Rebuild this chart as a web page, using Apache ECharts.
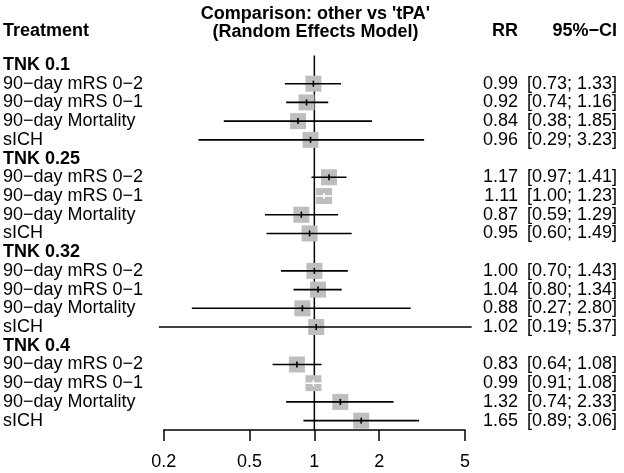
<!DOCTYPE html>
<html>
<head>
<meta charset="utf-8">
<script src="https://cdn.jsdelivr.net/npm/echarts@6/dist/echarts.min.js"></script>
<style>
html,body{margin:0;padding:0;background:#fff;}
#chart{width:624px;height:473px;}
</style>
</head>
<body>
<div id="chart"></div>
<script>
// ---- data ----
const groups = ['TNK 0.1', 'TNK 0.25', 'TNK 0.32', 'TNK 0.4'];
const outcomes = ['90\u2212day mRS 0\u22122', '90\u2212day mRS 0\u22121', '90\u2212day Mortality', 'sICH'];
const rrValues = [
  [0.99, 0.92, 0.84, 0.96],
  [1.17, 1.11, 0.87, 0.95],
  [1.00, 1.04, 0.88, 1.02],
  [0.83, 0.99, 1.32, 1.65]
];
const lowerCI = [
  [0.73, 0.74, 0.38, 0.29],
  [0.97, 1.00, 0.59, 0.60],
  [0.70, 0.80, 0.27, 0.19],
  [0.64, 0.91, 0.74, 0.89]
];
const upperCI = [
  [1.33, 1.16, 1.85, 3.23],
  [1.41, 1.23, 1.29, 1.49],
  [1.43, 1.34, 2.80, 5.37],
  [1.08, 1.08, 2.33, 3.06]
];
const tickValues = [0.2, 0.5, 1, 2, 5];
const refValue = 1;
const titleText = "Comparison: other vs 'tPA'\n(Random Effects Model)";

// ---- build rows ----
const rowLabels = [], rrLabels = [], ciLabels = [], points = [];
groups.forEach((g, gi) => {
  rowLabels.push('{b|' + g + '}');
  rrLabels.push('');
  ciLabels.push('');
  outcomes.forEach((o, oi) => {
    const idx = rowLabels.length;
    rowLabels.push(o);
    rrLabels.push(rrValues[gi][oi].toFixed(2));
    ciLabels.push('[' + lowerCI[gi][oi].toFixed(2) + '; ' + upperCI[gi][oi].toFixed(2) + ']');
    points.push([rrValues[gi][oi], lowerCI[gi][oi], upperCI[gi][oi], idx]);
  });
});

const FONT = '"Liberation Sans", Arial, Helvetica, sans-serif';
const FS = 18;
const gridLeft = 163.7, gridRight = 159, gridTop = 55.6, gridBottom = 43;

const chart = echarts.init(document.getElementById('chart'), null, {renderer: 'canvas'});

const hiddenCat = (data, pos, align, margin, rich) => ({
  type: 'category',
  data: data,
  inverse: true,
  position: pos,
  boundaryGap: true,
  axisLine: {show: false},
  axisTick: {show: false},
  splitLine: {show: false},
  axisLabel: {
    show: true, interval: 0, align: align, margin: margin,
    color: '#000', fontSize: FS, fontFamily: FONT,
    rich: rich || {}
  }
});

chart.setOption({
  animation: false,
  backgroundColor: '#fff',
  title: {
    text: titleText,
    left: 315.5, top: 5, textAlign: 'center', padding: 0,
    textStyle: {fontFamily: FONT, fontSize: FS, fontWeight: 'bold', lineHeight: 18, color: '#000'}
  },
  graphic: [
    {type: 'text', x: 3, y: 31, style: {text: 'Treatment', align: 'left', verticalAlign: 'middle', font: 'bold ' + FS + 'px ' + FONT, fill: '#000'}},
    {type: 'text', x: 518, y: 31, style: {text: 'RR', align: 'right', verticalAlign: 'middle', font: 'bold ' + FS + 'px ' + FONT, fill: '#000'}},
    {type: 'text', x: 617, y: 31, style: {text: '95%\u2212CI', align: 'right', verticalAlign: 'middle', font: 'bold ' + FS + 'px ' + FONT, fill: '#000'}}
  ],
  grid: {left: gridLeft, right: gridRight, top: gridTop, bottom: gridBottom, containLabel: false},
  xAxis: {
    type: 'log', logBase: 10, min: 0.2, max: 5,
    position: 'bottom',
    axisLine: {show: true, lineStyle: {color: '#000', width: 1.5}},
    axisTick: {show: true, inside: false, length: 11, lineStyle: {color: '#000', width: 1.5}, customValues: tickValues},
    axisLabel: {show: true, margin: 23, color: '#000', fontSize: FS, fontFamily: FONT, customValues: tickValues,
      formatter: v => String(+(+v).toPrecision(3))},
    splitLine: {show: false},
    minorTick: {show: false}
  },
  yAxis: [
    hiddenCat(rowLabels, 'left', 'left', gridLeft - 3, {b: {fontWeight: 'bold', fontSize: FS, fontFamily: FONT, color: '#000'}}),
    hiddenCat(rrLabels, 'right', 'right', 518 - (624 - gridRight)),
    hiddenCat(ciLabels, 'right', 'right', 617 - (624 - gridRight))
  ],
  series: [
    {
      type: 'custom',
      z: 1,
      clip: false,
      data: [[refValue, 0]],
      renderItem: (params, api) => {
        const p = api.coord([api.value(0), 0]);
        const cs = params.coordSys;
        return {type: 'line', shape: {x1: p[0], y1: cs.y, x2: p[0], y2: cs.y + cs.height},
          style: {stroke: '#000', lineWidth: 1.5}};
      }
    },
    {
      type: 'custom',
      z: 2,
      clip: false,
      data: points,
      encode: {x: [0, 1, 2], y: 3},
      renderItem: (params, api) => {
        const row = api.value(3);
        const pE = api.coord([api.value(0), row]);
        const pL = api.coord([api.value(1), row]);
        const pH = api.coord([api.value(2), row]);
        const s = 16;
        const bl = pE[0] - s / 2, br = pE[0] + s / 2;
        const inside = pL[0] >= bl - 3 && pH[0] <= br + 3;
        const col = inside ? '#fff' : '#000';
        const x1 = inside ? Math.max(pL[0], bl) : pL[0];
        const x2 = inside ? Math.min(pH[0], br) : pH[0];
        return {
          type: 'group',
          children: [
            {type: 'rect', shape: {x: bl, y: pE[1] - s / 2, width: s, height: s}, style: {fill: '#bebebe'}},
            {type: 'line', shape: {x1: x1, y1: pE[1], x2: x2, y2: pE[1]}, style: {stroke: col, lineWidth: 1.6}},
            {type: 'line', shape: {x1: pE[0], y1: pE[1] - 3, x2: pE[0], y2: pE[1] + 3}, style: {stroke: col, lineWidth: 1.6}}
          ]
        };
      }
    }
  ]
});
</script>
</body>
</html>
